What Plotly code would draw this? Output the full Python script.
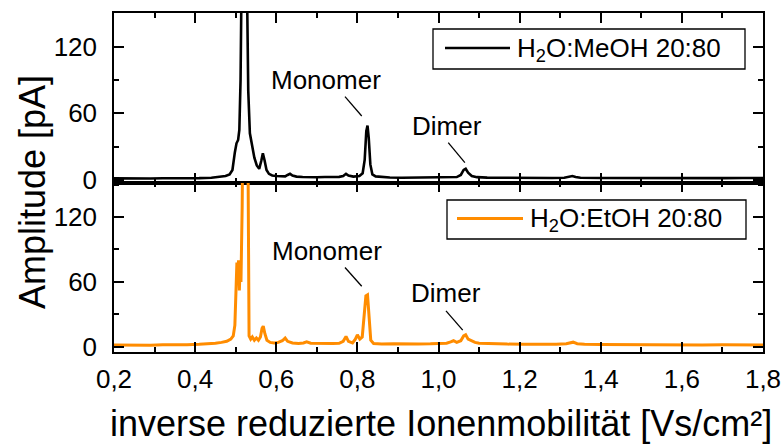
import plotly.graph_objects as go
from plotly.subplots import make_subplots

# ---- spectra: inverse reduced ion mobility [Vs/cm²] vs. amplitude [pA] ----
meoh_x = [0.200, 0.230, 0.260, 0.290, 0.320, 0.350, 0.380, 0.410, 0.440, 0.460,
          0.475, 0.485, 0.492, 0.498, 0.502, 0.506, 0.509, 0.512, 0.515, 0.521,
          0.527, 0.531, 0.535, 0.540, 0.546, 0.552, 0.558, 0.563, 0.567, 0.571,
          0.576, 0.582, 0.590, 0.600, 0.612, 0.622, 0.628, 0.634, 0.640, 0.650,
          0.665, 0.680, 0.700, 0.720, 0.740, 0.755, 0.765, 0.772, 0.778, 0.790,
          0.805, 0.813, 0.818, 0.822, 0.825, 0.828, 0.832, 0.837, 0.845, 0.860,
          0.880, 0.910, 0.940, 0.970, 1.000, 1.025, 1.045, 1.055, 1.062, 1.067,
          1.073, 1.082, 1.095, 1.120, 1.160, 1.200, 1.240, 1.280, 1.310, 1.322,
          1.330, 1.338, 1.350, 1.400, 1.450, 1.500, 1.550, 1.600, 1.650, 1.700,
          1.750, 1.800]
meoh_y = [1.4, 1.2, 1.6, 1.3, 1.5, 1.4, 1.7, 1.6, 2.0, 2.5,
          3.5, 5.0, 9.0, 25.0, 33.0, 36.0, 45.0, 90.0, 200.0, 420.0,
          200.0, 80.0, 42.0, 30.0, 20.0, 13.0, 10.0, 17.0, 24.0, 18.0,
          9.0, 5.5, 4.0, 3.5, 3.0, 3.2, 4.5, 5.5, 4.0, 3.0,
          2.6, 2.8, 2.4, 2.6, 2.5, 2.8, 3.5, 5.5, 4.0, 3.0,
          3.5, 6.0, 18.0, 44.0, 49.0, 38.0, 14.0, 5.0, 3.2, 2.6,
          2.2, 2.0, 2.1, 1.9, 2.0, 2.2, 2.6, 4.5, 9.0, 10.0,
          6.5, 3.5, 2.5, 2.1, 1.9, 1.8, 1.9, 1.8, 2.0, 2.8,
          3.5, 2.6, 2.0, 1.8, 1.7, 1.9, 1.6, 1.8, 1.7, 1.6,
          1.8, 1.7]

etoh_x = [0.200, 0.230, 0.260, 0.290, 0.320, 0.350, 0.380, 0.410, 0.430, 0.450,
          0.465, 0.478, 0.488, 0.494, 0.498, 0.501, 0.503, 0.505, 0.507, 0.509,
          0.511, 0.513, 0.516, 0.519, 0.524, 0.529, 0.531, 0.533, 0.537, 0.541,
          0.546, 0.551, 0.556, 0.561, 0.565, 0.568, 0.572, 0.577, 0.585, 0.595,
          0.605, 0.615, 0.622, 0.628, 0.640, 0.655, 0.667, 0.675, 0.685, 0.700,
          0.720, 0.740, 0.755, 0.765, 0.772, 0.778, 0.788, 0.795, 0.800, 0.806,
          0.812, 0.817, 0.821, 0.825, 0.829, 0.833, 0.840, 0.860, 0.890, 0.920,
          0.950, 0.980, 1.000, 1.020, 1.030, 1.037, 1.045, 1.055, 1.062, 1.067,
          1.073, 1.082, 1.090, 1.100, 1.130, 1.170, 1.210, 1.250, 1.290, 1.315,
          1.325, 1.332, 1.342, 1.360, 1.400, 1.450, 1.500, 1.550, 1.600, 1.650,
          1.700, 1.750, 1.800]
etoh_y = [1.5, 1.3, 1.6, 1.4, 1.7, 1.6, 1.9, 2.2, 2.6, 3.2,
          4.0, 5.0, 7.0, 10.0, 20.0, 55.0, 78.0, 62.0, 80.0, 52.0,
          75.0, 60.0, 130.0, 260.0, 420.0, 260.0, 60.0, 10.0, 7.0, 9.0,
          6.0, 8.0, 6.0, 9.0, 17.0, 19.0, 12.0, 6.0, 4.0, 3.5,
          4.0, 5.5, 8.0, 5.0, 3.5, 3.0, 3.5, 4.5, 3.2, 3.0,
          2.8, 3.0, 3.2, 5.0, 9.5, 5.0, 3.5, 7.0, 11.0, 7.0,
          9.0, 28.0, 47.0, 48.0, 30.0, 6.0, 3.0, 2.6, 2.8, 2.5,
          2.6, 2.7, 2.9, 3.3, 4.5, 5.5, 4.0, 5.5, 10.0, 11.0,
          7.0, 5.0, 4.0, 3.2, 2.6, 2.4, 2.3, 2.2, 2.3, 2.8,
          4.0, 4.2, 2.8, 2.2, 2.0, 1.8, 1.9, 1.7, 1.8, 1.6,
          1.7, 1.5, 1.6]

series_names = ["H<sub>2</sub>O:MeOH 20:80", "H<sub>2</sub>O:EtOH 20:80"]
series_colors = ["#000000", "#ff8c00"]

x_range = [0.2, 1.8]
y_range_top = [-2.3, 150.3]
y_range_bottom = [-4.9, 152.0]

FONT = "Liberation Sans, Arial, Helvetica, sans-serif"

# plot-area geometry in pixels (used for decorations placed in paper space)
W, H = 783, 445
L, R, T, B = 114, 763, 13, 352


def px_x(px):
    return (px - L) / (R - L)


def px_y(py):
    return (B - py) / (B - T)


fig = make_subplots(rows=2, cols=1, shared_xaxes=True, vertical_spacing=0)

fig.add_trace(go.Scatter(x=meoh_x, y=meoh_y, mode="lines", name=series_names[0],
                         line=dict(color=series_colors[0], width=2.6),
                         showlegend=False), row=1, col=1)
fig.add_trace(go.Scatter(x=etoh_x, y=etoh_y, mode="lines", name=series_names[1],
                         line=dict(color=series_colors[1], width=3),
                         showlegend=False), row=2, col=1)

axis_common = dict(
    showline=True, linecolor="black", linewidth=1.5, mirror="allticks",
    ticks="inside", ticklen=10, tickwidth=1.5, tickcolor="black",
    showgrid=False, zeroline=False, automargin=False,
    tickfont=dict(family=FONT, size=26, color="black"),
)

fig.update_xaxes(**axis_common, range=x_range, dtick=0.2, tick0=0.2,
                 tickformat=".1f",
                 minor=dict(dtick=0.1, ticks="inside", ticklen=5, tickwidth=1.5,
                            tickcolor="black", showgrid=False))
fig.update_xaxes(showticklabels=False, row=1, col=1)
fig.update_xaxes(ticklabelstandoff=3, row=2, col=1)

fig.update_yaxes(**axis_common, dtick=60, tick0=0, ticklabelstandoff=10,
                 minor=dict(dtick=30, ticks="inside", ticklen=5, tickwidth=1.5,
                            tickcolor="black", showgrid=False))
fig.update_yaxes(range=y_range_top, row=1, col=1)
fig.update_yaxes(range=y_range_bottom, row=2, col=1)

annotations = []
shapes = []

# peak labels with leader lines (data coordinates of each panel)
peak_labels = [
    # (text, xref, yref, text_x, text_y, line_x0, line_y0, line_x1, line_y1)
    ("Monomer", "x", "y", 0.722, 90.0, 0.7695, 75.0, 0.8107, 57.6),
    ("Dimer", "x", "y", 1.022, 48.6, 1.024, 33.6, 1.065, 15.6),
    ("Monomer", "x2", "y2", 0.724, 88.5, 0.7695, 73.3, 0.8107, 56.0),
    ("Dimer", "x2", "y2", 1.018, 50.0, 1.0185, 33.2, 1.0597, 15.4),
]
for text, xr, yr, tx, ty, lx0, ly0, lx1, ly1 in peak_labels:
    annotations.append(dict(text=text, xref=xr, yref=yr, x=tx, y=ty,
                            showarrow=False, xanchor="center", yanchor="middle",
                            font=dict(family=FONT, size=26, color="black")))
    shapes.append(dict(type="line", xref=xr, yref=yr, x0=lx0, y0=ly0, x1=lx1, y1=ly1,
                       line=dict(color="black", width=1.3)))

# legend boxes, one per panel
legend_boxes = [
    # (name, color, width, box x0, x1, y0, y1 [px], sample x0, x1, text x [px])
    (series_names[0], series_colors[0], 2.6, 433, 745, 29, 69, 445, 510, 515),
    (series_names[1], series_colors[1], 3.0, 447, 746, 200, 239, 457, 523, 528),
]
for name, color, lw, bx0, bx1, by0, by1, sx0, sx1, tx in legend_boxes:
    yc = (by0 + by1) / 2
    shapes.append(dict(type="rect", xref="paper", yref="paper",
                       x0=px_x(bx0), x1=px_x(bx1), y0=px_y(by1), y1=px_y(by0),
                       line=dict(color="black", width=1.3), fillcolor="white", layer="above"))
    shapes.append(dict(type="line", xref="paper", yref="paper",
                       x0=px_x(sx0), x1=px_x(sx1), y0=px_y(yc - 1), y1=px_y(yc - 1),
                       line=dict(color=color, width=lw), layer="above"))
    annotations.append(dict(text=name, xref="paper", yref="paper",
                            x=px_x(tx), y=px_y(yc), xanchor="left", yanchor="middle",
                            showarrow=False,
                            font=dict(family=FONT, size=26, color="black")))

# axis titles
annotations.append(dict(text="Amplitude [pA]", xref="paper", yref="paper",
                        x=px_x(32), y=px_y(192), textangle=-90,
                        xanchor="center", yanchor="middle", showarrow=False,
                        font=dict(family=FONT, size=36, color="black")))
annotations.append(dict(text="inverse reduzierte Ionenmobilität [Vs/cm²]",
                        xref="paper", yref="paper", x=px_x(441), y=px_y(424),
                        xanchor="center", yanchor="middle", showarrow=False,
                        font=dict(family=FONT, size=36, color="black")))

fig.update_layout(
    width=W, height=H,
    margin=dict(l=L, r=W - R, t=T, b=H - B),
    paper_bgcolor="white", plot_bgcolor="white",
    separators=", ",
    showlegend=False,
    font=dict(family=FONT, color="black"),
    annotations=annotations,
    shapes=shapes,
)

fig.write_html("out.html")
